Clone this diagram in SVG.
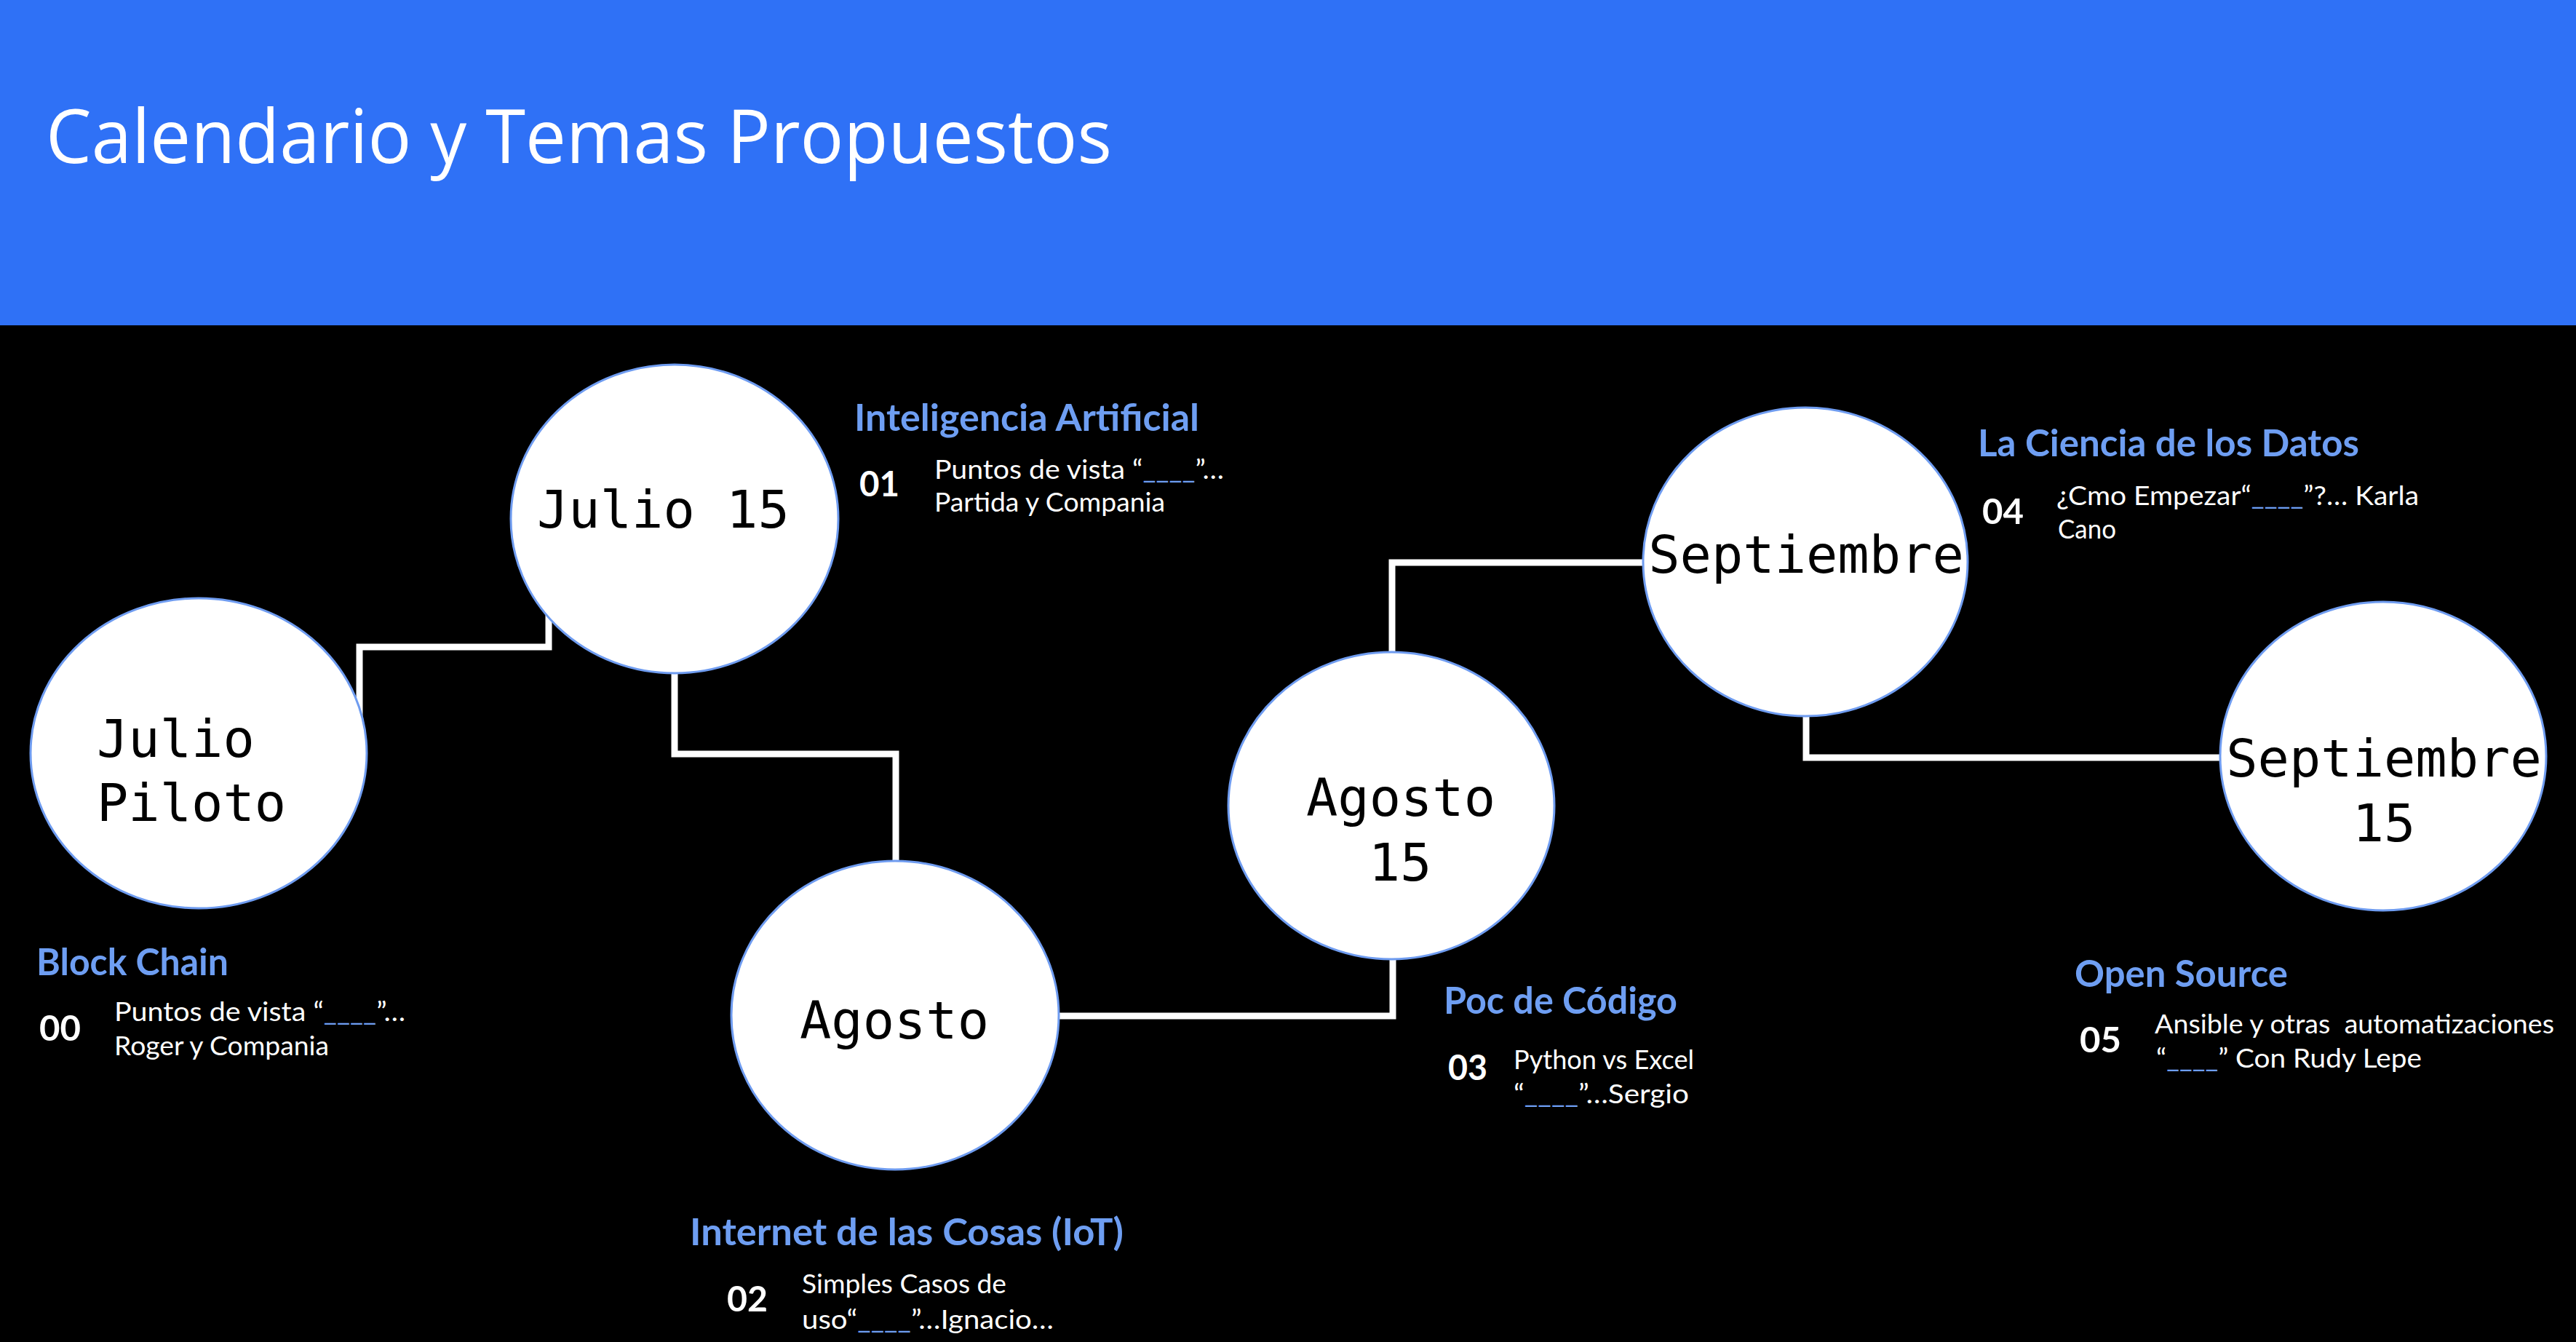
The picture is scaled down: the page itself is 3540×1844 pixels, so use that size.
<svg xmlns="http://www.w3.org/2000/svg" width="3540" height="1844" viewBox="0 0 3540 1844">
<style>
.node ellipse{fill:#ffffff;stroke:#6f9cf0;stroke-width:3}
.node text{font-family:"DejaVu Sans Mono",monospace;font-size:72px;fill:#000000}
.conn path{fill:none;stroke:#ffffff;stroke-width:9}
.head{font-family:Lato,"Open Sans",sans-serif;font-weight:bold;font-size:51px;fill:#6e9ef2}
.num{font-family:Lato,"Open Sans",sans-serif;font-weight:bold;font-size:48px;fill:#ffffff}
.body{font-family:Lato,"Open Sans",sans-serif;font-size:36px;fill:#ffffff}
.blank{fill:#6e9ef2}
</style>
<rect x="0" y="0" width="3540" height="1844" fill="#000000"/>
<rect x="0" y="0" width="3540" height="447" fill="#2f71f6"/>
<text x="63" y="224" font-family="'Open Sans',Lato,sans-serif" font-weight="400" font-size="102" fill="#ffffff" textLength="1465" lengthAdjust="spacingAndGlyphs">Calendario y Temas Propuestos</text>

<g id="connectors" class="conn">
<path d="M494,1000 V889 H754 V760"/>
<path d="M927,900 V1036 H1231 V1200"/>
<path d="M1430,1396 H1914 V1300"/>
<path d="M1913,920 V773 H2280"/>
<path d="M2482,960 V1041 H3070"/>
</g>

<g id="node-julio-piloto" class="node">
<ellipse cx="273" cy="1035" rx="231" ry="213"/>
<text x="133" y="1040">Julio</text>
<text x="133" y="1128">Piloto</text>
</g>
<g id="node-julio-15" class="node">
<ellipse cx="927" cy="713" rx="225" ry="212"/>
<text x="738" y="725">Julio 15</text>
</g>
<g id="node-agosto" class="node">
<ellipse cx="1230" cy="1395" rx="225" ry="212"/>
<text x="1229" y="1427" text-anchor="middle">Agosto</text>
</g>
<g id="node-agosto-15" class="node">
<ellipse cx="1912" cy="1107" rx="224" ry="211"/>
<text x="1925" y="1121" text-anchor="middle">Agosto</text>
<text x="1924" y="1210" text-anchor="middle">15</text>
</g>
<g id="node-septiembre" class="node">
<ellipse cx="2481" cy="772" rx="223" ry="212"/>
<text x="2482" y="787" text-anchor="middle">Septiembre</text>
</g>
<g id="node-septiembre-15" class="node">
<ellipse cx="3275" cy="1039" rx="224" ry="212"/>
<text x="3276" y="1067" text-anchor="middle">Septiembre</text>
<text x="3276" y="1156" text-anchor="middle">15</text>
</g>

<g id="topic-00">
<text class="head" x="50" y="1340" textLength="264" lengthAdjust="spacingAndGlyphs">Block Chain</text>
<text class="num" x="54" y="1430" textLength="57" lengthAdjust="spacingAndGlyphs">00</text>
<text class="body" x="157" y="1403" textLength="400" lengthAdjust="spacingAndGlyphs">Puntos de vista “<tspan class="blank">____</tspan>”…</text>
<text class="body" x="157" y="1450" textLength="295" lengthAdjust="spacingAndGlyphs">Roger y Compania</text>
</g>
<g id="topic-01">
<text class="head" x="1174" y="592" textLength="474" lengthAdjust="spacingAndGlyphs">Inteligencia Artificial</text>
<text class="num" x="1181" y="682" textLength="55" lengthAdjust="spacingAndGlyphs">01</text>
<text class="body" x="1284" y="658" textLength="398" lengthAdjust="spacingAndGlyphs">Puntos de vista “<tspan class="blank">____</tspan>”…</text>
<text class="body" x="1284" y="703" textLength="317" lengthAdjust="spacingAndGlyphs">Partida y Compania</text>
</g>
<g id="topic-02">
<text class="head" x="948" y="1711" textLength="596" lengthAdjust="spacingAndGlyphs">Internet de las Cosas (IoT)</text>
<text class="num" x="999" y="1802" textLength="56" lengthAdjust="spacingAndGlyphs">02</text>
<text class="body" x="1102" y="1777" textLength="281" lengthAdjust="spacingAndGlyphs">Simples Casos de</text>
<text class="body" x="1102" y="1826" textLength="346" lengthAdjust="spacingAndGlyphs">uso“<tspan class="blank">____</tspan>”…Ignacio…</text>
</g>
<g id="topic-03">
<text class="head" x="1984" y="1393" textLength="321" lengthAdjust="spacingAndGlyphs">Poc de Código</text>
<text class="num" x="1990" y="1484" textLength="54" lengthAdjust="spacingAndGlyphs">03</text>
<text class="body" x="2080" y="1469" textLength="248" lengthAdjust="spacingAndGlyphs">Python vs Excel</text>
<text class="body" x="2080" y="1516" textLength="241" lengthAdjust="spacingAndGlyphs">“<tspan class="blank">____</tspan>”…Sergio</text>
</g>
<g id="topic-04">
<text class="head" x="2718" y="627" textLength="524" lengthAdjust="spacingAndGlyphs">La Ciencia de los Datos</text>
<text class="num" x="2724" y="720" textLength="57" lengthAdjust="spacingAndGlyphs">04</text>
<text class="body" x="2826" y="694" textLength="498" lengthAdjust="spacingAndGlyphs">¿Cmo Empezar“<tspan class="blank">____</tspan>”?… Karla</text>
<text class="body" x="2828" y="740" textLength="80" lengthAdjust="spacingAndGlyphs">Cano</text>
</g>
<g id="topic-05">
<text class="head" x="2851" y="1356" textLength="293" lengthAdjust="spacingAndGlyphs">Open Source</text>
<text class="num" x="2858" y="1446" textLength="57" lengthAdjust="spacingAndGlyphs">05</text>
<text class="body" x="2961" y="1420" textLength="549" lengthAdjust="spacingAndGlyphs" xml:space="preserve">Ansible y otras  automatizaciones</text>
<text class="body" x="2963" y="1467" textLength="365" lengthAdjust="spacingAndGlyphs">“<tspan class="blank">____</tspan>” Con Rudy Lepe</text>
</g>
</svg>
